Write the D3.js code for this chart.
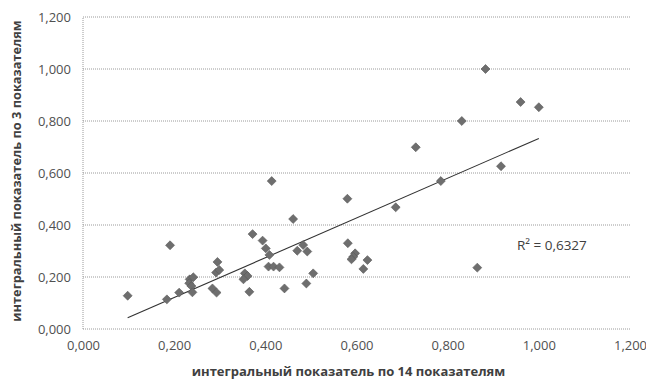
<!DOCTYPE html>
<html><head><meta charset="utf-8">
<script src="https://cdn.jsdelivr.net/npm/d3@7"></script>
<style>body{margin:0;background:#fff}</style>
</head><body>
<script>
const xVals = [0.098,0.191,0.184,0.211,0.234,0.242,0.233,0.238,0.240,0.295,0.292,0.299,0.284,0.293,
  0.372,0.394,0.401,0.409,0.407,0.418,0.431,0.355,0.361,0.352,0.365,0.414,0.442,0.461,0.470,0.483,
  0.492,0.490,0.505,0.580,0.581,0.597,0.593,0.589,0.624,0.615,0.686,0.785,0.730,0.831,0.883,0.960,
  1.000,0.917,0.865];
const yVals = [0.128,0.322,0.114,0.140,0.191,0.199,0.176,0.165,0.141,0.258,0.217,0.227,0.156,0.140,
  0.365,0.340,0.310,0.285,0.240,0.240,0.237,0.214,0.204,0.191,0.143,0.569,0.156,0.423,0.301,0.323,
  0.298,0.175,0.214,0.501,0.330,0.291,0.278,0.268,0.265,0.231,0.468,0.569,0.699,0.800,1.000,0.873,
  0.853,0.626,0.236];
const xTicks = [0,0.2,0.4,0.6,0.8,1.0,1.2];
const yTicks = [0,0.2,0.4,0.6,0.8,1.0,1.2];
const trendSlope = 0.765, trendIntercept = -0.032;
const r2Label = "R² = 0,6327";
const xTitle = "интегральный показатель по 14 показателям";
const yTitle = "интегральный показатель по 3 показателям";

const W = 646, H = 381;
const m = {left: 83, right: 16, top: 17, bottom: 52};
const fmt = v => d3.format(".3f")(v).replace(".", ",");
const svg = d3.select("body").append("svg").attr("width", W).attr("height", H);
const x = d3.scaleLinear().domain([0, 1.2]).range([m.left, W - m.right]);
const y = d3.scaleLinear().domain([0, 1.2]).range([H - m.bottom, m.top]);

// gridlines
svg.append("g").selectAll("line").data(yTicks).join("line")
  .attr("x1", x(0)).attr("x2", x(1.2)).attr("y1", d => y(d)).attr("y2", d => y(d))
  .attr("stroke", "#9a9a9a").attr("stroke-width", 1).attr("stroke-dasharray", "1,1");
svg.append("line").attr("x1", x(0)).attr("x2", x(0)).attr("y1", y(0)).attr("y2", y(1.2))
  .attr("stroke", "#9a9a9a").attr("stroke-dasharray", "1,1");

const font = "'Open Sans', sans-serif";
// axes via d3 axis generators
const xa = svg.append("g").attr("transform", `translate(0,${y(0)})`)
  .call(d3.axisBottom(x).tickValues(xTicks).tickFormat(fmt).tickSize(0).tickPadding(12));
const ya = svg.append("g").attr("transform", `translate(${x(0)},0)`)
  .call(d3.axisLeft(y).tickValues(yTicks).tickFormat(fmt).tickSize(0).tickPadding(12));
[xa, ya].forEach(g => {
  g.select(".domain").remove();
  g.selectAll("text").attr("font-family", font).attr("font-size", "13px").attr("fill", "#505050");
});

// trend line
const tx = d3.extent(xVals);
svg.append("line")
  .attr("x1", x(tx[0])).attr("y1", y(trendSlope * tx[0] + trendIntercept))
  .attr("x2", x(tx[1])).attr("y2", y(trendSlope * tx[1] + trendIntercept))
  .attr("stroke", "#333").attr("stroke-width", 1.1);

// points
const pts = xVals.map((v, i) => [v, yVals[i]]);
svg.append("g").selectAll("path").data(pts).join("path")
  .attr("d", d3.symbol().type(d3.symbolSquare).size(40))
  .attr("transform", d => `translate(${x(d[0])},${y(d[1])}) rotate(45)`)
  .attr("fill", "#6e6e6e").attr("stroke", "#5a5a5a").attr("stroke-width", 0.6);

// R2 label
svg.append("text").attr("x", x(0.952)).attr("y", y(0.305))
  .attr("font-family", font).attr("font-size", "13.5px").attr("fill", "#404040")
  .text(r2Label);

// axis titles
svg.append("text").attr("x", (x(0) + x(1.2)) / 2 - 8).attr("y", H - 5)
  .attr("text-anchor", "middle").attr("font-family", font).attr("font-weight", "bold")
  .attr("font-size", "13px").attr("fill", "#404040").text(xTitle);
svg.append("text").attr("transform", `translate(21,${(y(0) + y(1.2)) / 2 - 2}) rotate(-90)`)
  .attr("text-anchor", "middle").attr("font-family", font).attr("font-weight", "bold")
  .attr("font-size", "12.8px").attr("fill", "#404040").text(yTitle);
</script>
</body></html>
